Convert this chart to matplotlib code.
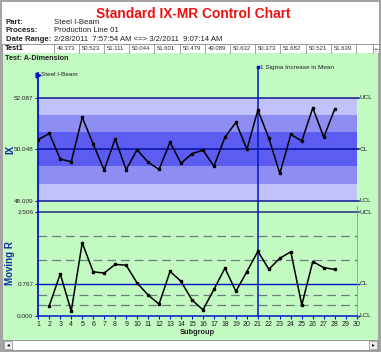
import matplotlib
matplotlib.use("Agg")
import matplotlib.pyplot as plt
from matplotlib.patches import Rectangle

plt.rcParams['font.family'] = ['Liberation Sans', 'DejaVu Sans']

# ---------------- data ----------------
subgroups = list(range(1, 29))
ix_values = [50.43, 50.67, 49.66, 49.55, 51.31, 50.25, 49.22, 50.46, 49.24, 50.03,
             49.53, 49.25, 50.32, 49.49, 49.87, 50.011, 49.373, 50.523, 51.111, 50.044,
             51.601, 50.479, 49.089, 50.632, 50.373, 51.682, 50.521, 51.639]
mr_subgroups = list(range(2, 29))
mr_values = [0.24, 1.01, 0.11, 1.76, 1.06, 1.03, 1.24, 1.22, 0.79, 0.50,
             0.28, 1.07, 0.83, 0.38, 0.141, 0.638, 1.150, 0.588, 1.067, 1.557,
             1.122, 1.390, 1.543, 0.259, 1.309, 1.161, 1.118]
ix_ucl, ix_cl, ix_lcl = 52.087, 50.048, 48.009
mr_ucl, mr_cl, mr_lcl = 2.506, 0.767, 0.000
mr_zone_lines = [1.93, 1.347, 0.51, 0.25]
table_values = ["49.373", "50.523", "51.111", "50.044", "51.601", "50.479",
                "49.089", "50.632", "50.373", "51.682", "50.521", "51.639"]
event_subgroup = 21
event_label = "1 Sigma Increase in Mean"
part_label = "Steel I-Beam"
x_ticks = list(range(1, 31))

W, H = 381, 352
fig = plt.figure(figsize=(W / 100, H / 100), dpi=100, facecolor='#A4A4A4')

def box(x0, y0, x1, y1):
    return [x0 / W, 1 - y1 / H, (x1 - x0) / W, (y1 - y0) / H]

bg = fig.add_axes([0, 0, 1, 1], zorder=-1)
bg.set_xlim(0, W)
bg.set_ylim(H, 0)
bg.axis('off')

def rect(x0, y0, x1, y1, fc, ec='none', lw=0.8):
    bg.add_patch(Rectangle((x0, y0), x1 - x0, y1 - y0, facecolor=fc, edgecolor=ec, linewidth=lw))

# header
rect(2, 2, 379, 44, 'white')
bg.text(193, 14, "Standard IX-MR Control Chart", color='#EE1111', fontsize=9.9,
        fontweight='bold', ha='center', va='center')
hdr = [("Part:", "Steel I-Beam", 22), ("Process:", "Production Line 01", 31),
       ("Date Range:", "2/28/2011  7:57:54 AM <=> 3/2/2011  9:07:14 AM", 39.5)]
for lab, val, yy in hdr:
    bg.text(6, yy, lab, fontsize=5.6, fontweight='bold', color='#202020', va='center')
    bg.text(54, yy, val, fontsize=5.6, color='#202020', va='center')

# table row
rect(2, 44, 379, 53, 'white', '#909090', 0.6)
bg.text(5, 48.8, "Test1", fontsize=5.3, fontweight='bold', color='#101010', va='center')
cw = 25.2
x0 = 53.5
for i, v in enumerate(table_values):
    bg.plot([x0 + i * cw] * 2, [44, 53], color='#909090', lw=0.6)
    bg.text(x0 + i * cw + 3, 48.8, v, fontsize=4.3, color='#303030', va='center')
bg.plot([x0 + 12 * cw] * 2, [44, 53], color='#909090', lw=0.6)
bg.plot([373, 373], [44, 53], color='#909090', lw=0.6)
bg.text(375.5, 48.6, "÷", fontsize=5, color='#404040', va='center', ha='center',
        family='DejaVu Sans')

# green panel
rect(3, 53, 378, 340, '#C2FAC2')
bg.text(5, 58, "Test: A-Dimension", fontsize=5.2, fontweight='bold', color='#202020', va='center')

# scroll bar
rect(3, 340, 378, 350, 'white', '#8C8C8C', 0.6)
rect(4, 341, 12, 349, '#F0F0F0', '#8C8C8C', 0.5)
rect(369, 341, 377, 349, '#F0F0F0', '#8C8C8C', 0.5)
bg.text(8, 345, "◂", fontsize=4, ha='center', va='center', family='DejaVu Sans')
bg.text(373, 345, "▸", fontsize=4, ha='center', va='center', family='DejaVu Sans')

# axis titles
bg.text(10, 149, "IX", rotation=90, fontsize=7, fontweight='bold', color='#1030A0',
        ha='center', va='center')
bg.text(10, 263, "Moving R", rotation=90, fontsize=7, fontweight='bold', color='#1030A0',
        ha='center', va='center')

blue = '#0018C8'
navy = '#101C90'
tick_fs = 4.6

# ---------------- IX chart ----------------
ax1 = fig.add_axes(box(38.3, 66, 356.7, 206))
ax1.set_facecolor('none')
ax1.set_xlim(1, 30)
ax1.set_ylim(47.799, 53.342)
sig = (ix_ucl - ix_cl) / 3
band_cols = ['#C2C2FA', '#8E8EF2', '#5C5CF0']
for k in range(3):
    ax1.axhspan(ix_cl + k * sig, ix_cl + (k + 1) * sig, color=band_cols[2 - k], lw=0, zorder=0)
    ax1.axhspan(ix_cl - (k + 1) * sig, ix_cl - k * sig, color=band_cols[2 - k], lw=0, zorder=0)
for v, lab in [(ix_ucl, 'UCL'), (ix_cl, 'CL'), (ix_lcl, 'LCL')]:
    ax1.plot([1, 30.25], [v, v], color=navy if v != ix_cl else '#0010A0', lw=1.1,
             clip_on=False, zorder=2)
    ax1.text(30.25, v, lab, fontsize=tick_fs, color='#202020', va='center', ha='left')
ax1.axvline(event_subgroup, color=blue, lw=1.1, zorder=3)
ax1.plot(subgroups, ix_values, color='black', lw=1.1, marker='s', ms=1.8, zorder=4)
ax1.plot([1], [52.99], marker='>', color=blue, ms=3.5, clip_on=False, zorder=5)
ax1.text(1.25, 52.99, part_label, fontsize=4.6, color='#202020', va='center')
ax1.plot([event_subgroup], [53.29], marker='o', color=blue, ms=1.8, clip_on=False, zorder=5)
ax1.text(event_subgroup + 0.15, 53.29, event_label, fontsize=4.6, color='#202020', va='center')
for s in ['top', 'right', 'bottom']:
    ax1.spines[s].set_visible(False)
ax1.spines['left'].set_color(blue)
ax1.spines['left'].set_linewidth(1.3)
ax1.spines['left'].set_bounds(47.799, 53.07)
ax1.set_xticks([])
ax1.set_yticks([ix_lcl, ix_cl, ix_ucl])
ax1.set_yticklabels([f"{v:.3f}" for v in [ix_lcl, ix_cl, ix_ucl]])
ax1.tick_params(axis='y', length=2, width=0.8, color=blue, labelsize=tick_fs,
                labelcolor='#202020', pad=1.5)

# ---------------- MR chart ----------------
ax2 = fig.add_axes(box(38.3, 206, 356.7, 315.7))
ax2.set_facecolor('none')
ax2.set_xlim(1, 30)
ax2.set_ylim(0, 2.651)
for v in mr_zone_lines:
    ax2.axhline(v, color='#6A7C7C', lw=0.9, dashes=(7, 4), zorder=1)
ax2.plot([1, 30.25], [mr_ucl, mr_ucl], color='#20307A', lw=1.1, clip_on=False, zorder=2)
ax2.plot([1, 30.25], [mr_cl, mr_cl], color=blue, lw=1.0, clip_on=False, zorder=2)
ax2.plot([30, 30.25], [0, 0], color=blue, lw=1.0, clip_on=False, zorder=2)
for v, lab in [(mr_ucl, 'UCL'), (mr_cl, 'CL'), (mr_lcl, 'LCL')]:
    ax2.text(30.25, v, lab, fontsize=tick_fs, color='#202020', va='center', ha='left')
ax2.axvline(event_subgroup, color=blue, lw=1.1, zorder=3)
ax2.plot(mr_subgroups, mr_values, color='black', lw=1.1, marker='s', ms=1.8, zorder=4)
ax2.spines['top'].set_visible(False)
ax2.spines['right'].set_color('#8A9A9A')
ax2.spines['right'].set_linewidth(0.6)
ax2.spines['left'].set_color(blue)
ax2.spines['left'].set_linewidth(1.3)
ax2.spines['bottom'].set_color(blue)
ax2.spines['bottom'].set_linewidth(1.1)
ax2.set_yticks([mr_lcl, mr_cl, mr_ucl])
ax2.set_yticklabels([f"{v:.3f}" for v in [mr_lcl, mr_cl, mr_ucl]])
ax2.set_xticks(x_ticks)
ax2.set_xticklabels([str(t) for t in x_ticks])
ax2.tick_params(axis='y', length=2, width=0.8, color=blue, labelsize=tick_fs,
                labelcolor='#202020', pad=1.5)
ax2.tick_params(axis='x', length=2, width=0.8, color=blue, labelsize=5,
                labelcolor='#202020', pad=1.5)
ax2.set_xlabel("Subgroup", fontsize=5.3, fontweight='bold', color='#202020', labelpad=1)

fig.savefig("out.png", dpi=100, facecolor=fig.get_facecolor())
